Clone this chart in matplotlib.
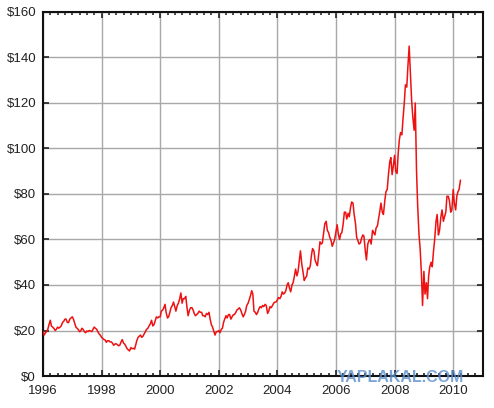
import numpy as np
import pandas as pd
import matplotlib
matplotlib.use("Agg")
import matplotlib.pyplot as plt
from matplotlib.ticker import MultipleLocator, FuncFormatter

start_date = "1996-01-01"
# semi-monthly oil price readings (1st and 15th of each month), USD/bbl
prices = [
    # 1996
    19.5, 18.0, 19.0, 19.5, 20.5, 22.5, 24.5, 22.0, 21.5, 21.0, 20.0, 20.5,
    21.5, 21.0, 21.5, 22.0, 23.5, 24.0, 25.0, 25.0, 23.5, 23.5, 25.0, 25.5,
    # 1997
    26.0, 25.0, 23.0, 21.5, 21.0, 20.5, 19.5, 19.8, 21.0, 20.5, 19.5, 19.0,
    19.8, 19.5, 20.0, 19.8, 19.5, 20.5, 21.5, 21.0, 20.5, 19.5, 18.5, 18.0,
    # 1998
    17.0, 16.5, 16.0, 15.8, 14.8, 15.5, 15.5, 15.0, 15.0, 14.5, 13.5, 14.0,
    14.2, 13.8, 13.3, 13.5, 15.0, 16.0, 14.5, 14.0, 13.0, 12.0, 11.5, 11.0,
    # 1999
    12.5, 12.0, 12.2, 11.8, 13.5, 15.5, 17.0, 17.5, 18.0, 17.0, 17.5, 18.5,
    19.5, 20.5, 21.0, 22.0, 23.0, 24.5, 22.0, 22.5, 24.5, 26.0, 25.5, 26.0,
    # 2000
    26.0, 28.5, 29.0, 30.0, 31.5, 28.0, 25.5, 26.0, 28.0, 30.0, 31.0, 32.5,
    30.5, 28.5, 31.0, 32.0, 34.0, 36.5, 32.0, 34.0, 34.0, 35.0, 30.0, 26.5,
    # 2001
    29.0, 30.0, 30.0, 29.0, 27.5, 26.5, 27.0, 27.5, 28.5, 28.0, 28.0, 26.5,
    26.5, 26.0, 27.5, 27.0, 28.0, 25.0, 22.5, 21.5, 19.5, 18.0, 19.5, 19.5,
    # 2002
    20.0, 19.0, 20.5, 21.0, 23.5, 25.0, 26.5, 25.5, 27.0, 27.0, 25.0, 26.0,
    27.0, 27.0, 28.0, 29.0, 29.5, 30.0, 29.0, 27.5, 26.0, 27.0, 28.5, 31.0,
    # 2003
    32.0, 33.5, 35.5, 37.5, 36.0, 28.5, 28.0, 27.0, 28.0, 29.5, 30.5, 30.0,
    31.0, 30.5, 31.5, 31.0, 27.5, 28.5, 30.5, 30.0, 31.0, 32.0, 32.5, 32.5,
    # 2004
    33.5, 34.5, 34.0, 35.0, 37.0, 36.0, 36.5, 37.5, 40.0, 41.0, 38.5, 37.0,
    40.0, 41.0, 44.0, 47.0, 44.0, 46.0, 51.0, 55.0, 49.0, 46.0, 42.0, 43.0,
    # 2005
    44.0, 47.5, 47.0, 48.5, 53.0, 56.0, 55.0, 51.0, 49.5, 48.5, 54.0, 59.0,
    58.0, 58.5, 63.0, 67.0, 68.0, 64.0, 63.0, 61.0, 59.5, 57.0, 58.5, 60.0,
    # 2006
    63.5, 66.5, 62.0, 60.0, 62.5, 63.0, 67.0, 72.0, 72.0, 69.0, 71.5, 70.0,
    74.0, 76.5, 76.0, 71.0, 67.0, 61.0, 59.5, 58.0, 58.5, 60.5, 62.0, 61.5,
    # 2007
    55.0, 51.0, 58.0, 59.5, 60.0, 58.0, 64.0, 63.0, 62.0, 65.0, 66.0, 69.0,
    72.5, 76.0, 72.0, 71.0, 77.0, 81.0, 82.0, 88.0, 94.0, 96.0, 88.5, 92.0,
    # 2008
    97.0, 90.0, 89.0, 98.0, 104.0, 107.0, 106.0, 113.0, 120.0, 128.0, 127.0, 136.0,
    145.0, 134.0, 121.0, 114.0, 108.0, 120.0, 90.0, 75.0, 62.0, 56.0, 45.0, 31.0,
    # 2009
    46.0, 36.0, 41.0, 34.0, 44.0, 48.0, 50.0, 48.0, 55.0, 60.0, 68.0, 71.0,
    62.0, 64.0, 70.0, 73.0, 68.0, 70.0, 72.0, 79.0, 79.0, 77.0, 72.0, 73.0,
    # 2010
    82.0, 76.0, 73.0, 79.0, 81.0, 82.0, 86.0,
]
year_ticks = [1996, 1998, 2000, 2002, 2004, 2006, 2008, 2010]
price_ticks = [0, 20, 40, 60, 80, 100, 120, 140, 160]

dates = pd.date_range(start_date, periods=len(prices), freq="SMS")
x = dates.year + (dates.dayofyear - 1) / np.where(dates.is_leap_year, 366, 365)

plt.rcParams['font.family'] = ['Liberation Sans', 'DejaVu Sans']
fig = plt.figure(figsize=(4.94, 4.08), dpi=100)
ax = fig.add_axes([43/494, 32/408, (482.5-43)/494, (376-12)/408])

ax.plot(x, prices, color="#ee1111", lw=1.1, zorder=3)

ax.set_xlim(1996, 2011)
ax.set_ylim(0, 160)
ax.set_xticks(year_ticks)
ax.set_yticks(price_ticks)
ax.xaxis.set_minor_locator(MultipleLocator(0.25))
ax.yaxis.set_major_formatter(FuncFormatter(lambda v, p: f"${int(v)}"))
ax.grid(True, which="major", color="#a8a8a8", lw=1.0, zorder=0)
ax.tick_params(which="both", direction="in", top=True, right=True,
               labelsize=9.5, colors="#222222", width=1.2)
ax.tick_params(which="major", length=4.5)
ax.tick_params(axis="x", which="major", pad=6.5)
ax.tick_params(axis="y", which="major", pad=5)
ax.tick_params(which="minor", length=2.5, left=False, right=False)
for s in ax.spines.values():
    s.set_linewidth(1.5)
    s.set_color("#111111")

fig.text(400/494, 1 - 378/408, "YAPLAKAL.COM", color="#5b8fcc", alpha=0.8,
         fontsize=11.5, fontweight="bold", ha="center", va="center",
         family="Liberation Sans")

fig.savefig("out.png", dpi=100)
